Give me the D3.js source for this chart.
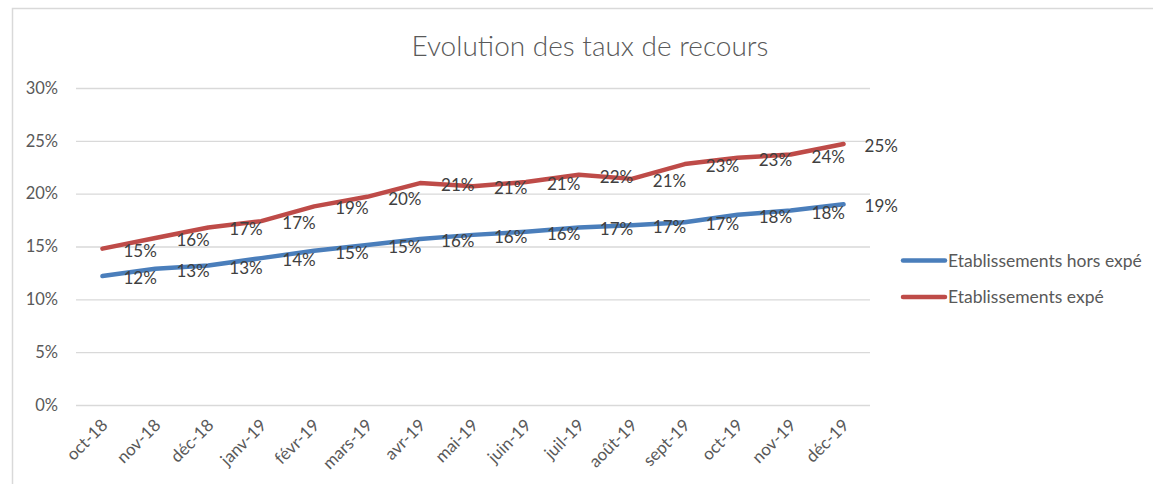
<!DOCTYPE html>
<html>
<head>
<meta charset="utf-8">
<script src="https://cdn.jsdelivr.net/npm/d3@7"></script>
<style>
  body { margin: 0; background: #fff; }
  svg { display: block; font-family: Lato, "Open Sans", sans-serif; }
</style>
</head>
<body>
<svg id="chart"></svg>
<script>
// months on the x axis
let months = ["oct-18", "nov-18", "déc-18", "janv-19", "févr-19", "mars-19", "avr-19", "mai-19",
    "juin-19", "juil-19", "août-19", "sept-19", "oct-19", "nov-19", "déc-19"]

// rates in %
let horsExpe = [12.2, 12.9, 13.2, 13.9, 14.6, 15.15, 15.7, 16.1, 16.4, 16.8, 17.0, 17.3, 18.0, 18.4, 19.0]
let expe = [14.8, 15.8, 16.8, 17.4, 18.8, 19.7, 21.0, 20.7, 21.1, 21.8, 21.4, 22.8, 23.4, 23.7, 24.7]

let yTicks = [0, 5, 10, 15, 20, 25, 30]

let seriesNames = ["Etablissements hors expé", "Etablissements expé"]
let seriesColors = ["#4a7ebb", "#be4b48"]

let width = 1153
let height = 484
let plotLeft = 76, plotRight = 870, plotTop = 88, plotBottom = 405

let chart = d3.select("#chart").attr("width", width).attr("height", height)

// outer frame of the chart area
chart.append("rect")
    .attr("x", 12.5).attr("y", 8.5)
    .attr("width", width).attr("height", height)
    .style("fill", "none")
    .style("stroke", "#d9d9d9")
    .style("stroke-width", 1.5)

chart.append("text")
    .attr("x", 590).attr("y", 56)
    .style("text-anchor", "middle")
    .style("font-size", "28px")
    .style("font-weight", 300)
    .style("fill", "#595959")
    .text("Evolution des taux de recours")

let xscale = d3.scaleBand()
    .domain(months)
    .range([plotLeft, plotRight])

let yscale = d3.scaleLinear()
    .domain([0, 30])
    .range([plotBottom, plotTop])

// gridlines + y labels
let yAxis = chart.append("g")
    .attr("transform", "translate(" + plotLeft + ",0)")
    .call(d3.axisLeft(yscale).tickValues(yTicks).tickSize(-(plotRight - plotLeft)).tickPadding(18)
        .tickFormat(d => d + "%"))
yAxis.select(".domain").remove()
yAxis.selectAll("line").style("stroke", "#d9d9d9").style("stroke-width", 1.3)
yAxis.selectAll("text").style("font-size", "16.5px").style("fill", "#595959")
    .style("font-family", "Lato, sans-serif")

// x labels, rotated
let xAxis = chart.append("g")
    .attr("transform", "translate(0," + plotBottom + ")")
    .call(d3.axisBottom(xscale).tickSize(0))
xAxis.select(".domain").remove()
xAxis.selectAll("text")
    .attr("transform", "translate(0,15) rotate(-45)")
    .attr("dy", "0.35em")
    .style("text-anchor", "end")
    .style("font-size", "17px")
    .style("fill", "#595959")
    .style("font-family", "Lato, sans-serif")

let cx = d => xscale(d) + xscale.bandwidth() / 2

let line = d3.line()
    .x((d, i) => cx(months[i]))
    .y(d => yscale(d))

let allSeries = [horsExpe, expe]

allSeries.forEach(function (values, s) {
    chart.append("path")
        .datum(values)
        .attr("d", line)
        .style("fill", "none")
        .style("stroke", seriesColors[s])
        .style("stroke-width", 4.5)
        .style("stroke-linejoin", "round")
        .style("stroke-linecap", "round")

    chart.append("g").selectAll("text")
        .data(values)
        .enter().append("text")
        .attr("x", (d, i) => cx(months[i]) + 21)
        .attr("y", d => yscale(d) + 8)
        .style("font-size", "17px")
        .style("fill", "#404040")
        .text(d => Math.round(d) + "%")
})

// legend
let legend = chart.append("g")
seriesNames.forEach(function (name, s) {
    let ly = 260.5 + s * 36.5
    legend.append("line")
        .attr("x1", 903).attr("x2", 945)
        .attr("y1", ly).attr("y2", ly)
        .style("stroke", seriesColors[s])
        .style("stroke-width", 4.5)
        .style("stroke-linecap", "round")
    legend.append("text")
        .attr("x", 948).attr("y", ly + 6)
        .style("font-size", "17.5px")
        .style("fill", "#595959")
        .text(name)
})
</script>
</body>
</html>
